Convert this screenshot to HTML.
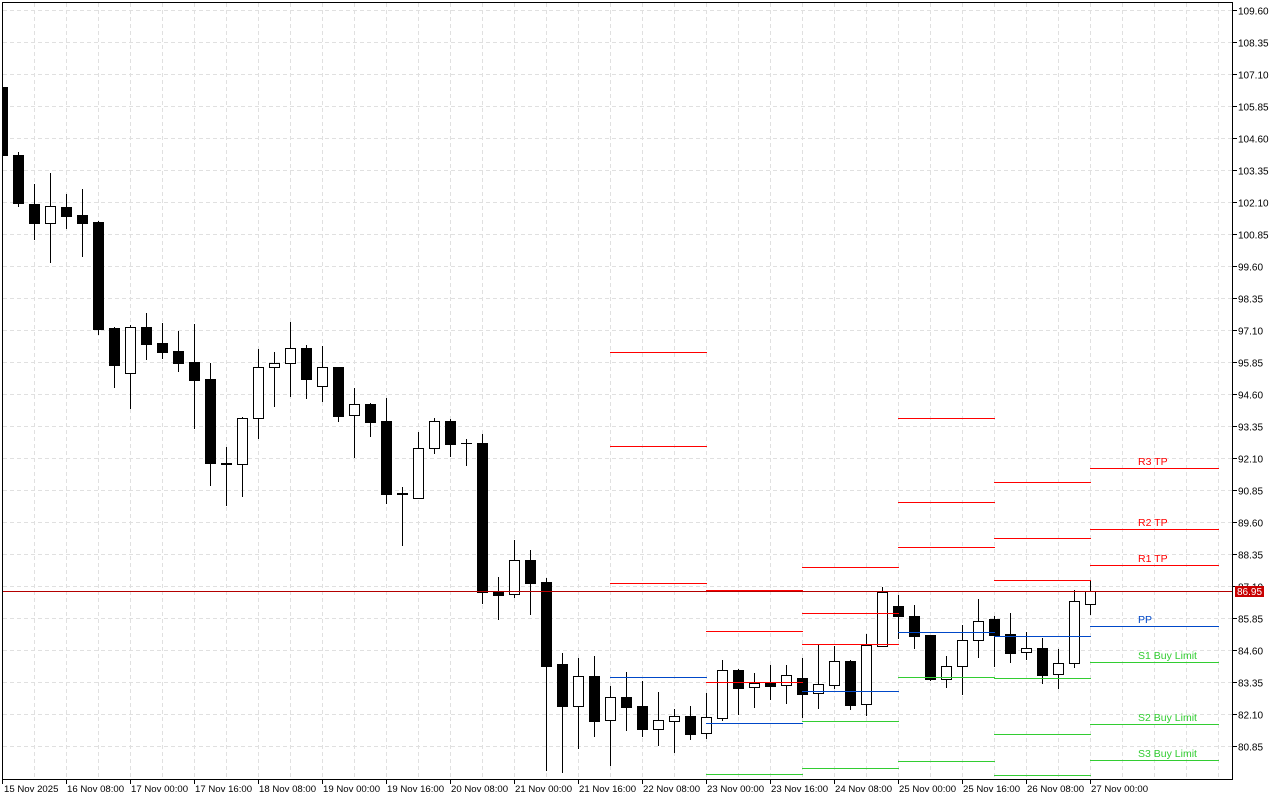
<!DOCTYPE html>
<html><head><meta charset="utf-8"><style>
html,body{margin:0;padding:0;background:#fff;}
svg{display:block;}
text{font-family:"Liberation Sans",Arial,sans-serif;}
</style></head><body>
<svg width="1280" height="800" viewBox="0 0 1280 800" xmlns="http://www.w3.org/2000/svg">
<defs><clipPath id="pa"><rect x="3" y="3" width="1229" height="776"/></clipPath></defs>
<rect width="1280" height="800" fill="#fff"/>
<g stroke="#e0e0e0" stroke-width="1" stroke-dasharray="4,3" fill="none">
<path d="M34.5 3V779M66.5 3V779M98.5 3V779M130.5 3V779M162.5 3V779M194.5 3V779M226.5 3V779M258.5 3V779M290.5 3V779M322.5 3V779M354.5 3V779M386.5 3V779M418.5 3V779M450.5 3V779M482.5 3V779M514.5 3V779M546.5 3V779M578.5 3V779M610.5 3V779M642.5 3V779M674.5 3V779M706.5 3V779M738.5 3V779M770.5 3V779M802.5 3V779M834.5 3V779M866.5 3V779M898.5 3V779M930.5 3V779M962.5 3V779M994.5 3V779M1026.5 3V779M1058.5 3V779M1090.5 3V779M1122.5 3V779M1154.5 3V779M1186.5 3V779M1218.5 3V779"/>
<path d="M3 10.5H1232M3 42.5H1232M3 74.5H1232M3 106.5H1232M3 138.5H1232M3 170.5H1232M3 202.5H1232M3 234.5H1232M3 266.5H1232M3 298.5H1232M3 330.5H1232M3 362.5H1232M3 394.5H1232M3 426.5H1232M3 458.5H1232M3 490.5H1232M3 522.5H1232M3 554.5H1232M3 586.5H1232M3 618.5H1232M3 650.5H1232M3 682.5H1232M3 714.5H1232M3 746.5H1232"/>
</g>
<g clip-path="url(#pa)">
<path stroke="#000" stroke-width="1" fill="none" d="M2.5 87V156M18.5 152V207M34.5 184V240M50.5 173V263M66.5 194V229M82.5 189V257M98.5 221V335M114.5 327V388M130.5 325V409M146.5 313V360M162.5 323V359M178.5 331V372M194.5 324V429M210.5 363V486M226.5 447V506M242.5 417V497M258.5 349V439M274.5 352V407M290.5 322V397M306.5 345V399M322.5 346V402M338.5 367V422M354.5 388V458M370.5 403V437M386.5 398V504M402.5 487V546M418.5 432V499M434.5 418V454M450.5 419V457M466.5 439V466M482.5 434V604M498.5 577V620M514.5 540V598M530.5 550V615M546.5 578V771M562.5 653V773M578.5 658V749M594.5 656V737M610.5 686V766M626.5 672V731M642.5 681V737M658.5 692V746M674.5 709V753M690.5 706V740M706.5 693V739M722.5 660V721M738.5 669V715M754.5 673V708M770.5 665V700M786.5 665V704M802.5 658V718M818.5 645V709M834.5 646V689M850.5 660V710M866.5 634V716M882.5 587V647M898.5 595V639M914.5 605V649M930.5 635V681M946.5 656V688M962.5 625V695M978.5 599V658M994.5 616V667M1010.5 613V663M1026.5 632V660M1042.5 638V684M1058.5 649V689M1074.5 590V668M1090.5 580V615"/>
<g stroke="#000" stroke-width="1">
<rect x="-2.5" y="87.5" width="10" height="68" fill="#000"/>
<rect x="13.5" y="155.5" width="10" height="48" fill="#000"/>
<rect x="29.5" y="204.5" width="10" height="19" fill="#000"/>
<rect x="45.5" y="206.5" width="10" height="17" fill="#fff"/>
<rect x="61.5" y="207.5" width="10" height="9" fill="#000"/>
<rect x="77.5" y="215.5" width="10" height="8" fill="#000"/>
<rect x="93.5" y="222.5" width="10" height="107" fill="#000"/>
<rect x="109.5" y="328.5" width="10" height="37" fill="#000"/>
<rect x="125.5" y="327.5" width="10" height="46" fill="#fff"/>
<rect x="141.5" y="327.5" width="10" height="17" fill="#000"/>
<rect x="157.5" y="343.5" width="10" height="9" fill="#000"/>
<rect x="173.5" y="351.5" width="10" height="12" fill="#000"/>
<rect x="189.5" y="362.5" width="10" height="18" fill="#000"/>
<rect x="205.5" y="379.5" width="10" height="84" fill="#000"/>
<rect x="221.5" y="463.5" width="10" height="1" fill="#000"/>
<rect x="237.5" y="418.5" width="10" height="46" fill="#fff"/>
<rect x="253.5" y="367.5" width="10" height="51" fill="#fff"/>
<rect x="269.5" y="363.5" width="10" height="4" fill="#fff"/>
<rect x="285.5" y="348.5" width="10" height="15" fill="#fff"/>
<rect x="301.5" y="348.5" width="10" height="31" fill="#000"/>
<rect x="317.5" y="367.5" width="10" height="19" fill="#fff"/>
<rect x="333.5" y="367.5" width="10" height="49" fill="#000"/>
<rect x="349.5" y="404.5" width="10" height="11" fill="#fff"/>
<rect x="365.5" y="404.5" width="10" height="18" fill="#000"/>
<rect x="381.5" y="421.5" width="10" height="73" fill="#000"/>
<rect x="397.5" y="493.5" width="10" height="1" fill="#000"/>
<rect x="413.5" y="448.5" width="10" height="50" fill="#fff"/>
<rect x="429.5" y="421.5" width="10" height="27" fill="#fff"/>
<rect x="445.5" y="421.5" width="10" height="23" fill="#000"/>
<path d="M461 443.5H472"/>
<rect x="477.5" y="443.5" width="10" height="149" fill="#000"/>
<rect x="493.5" y="591.5" width="10" height="4" fill="#000"/>
<rect x="509.5" y="560.5" width="10" height="34" fill="#fff"/>
<rect x="525.5" y="560.5" width="10" height="23" fill="#000"/>
<rect x="541.5" y="582.5" width="10" height="84" fill="#000"/>
<rect x="557.5" y="664.5" width="10" height="42" fill="#000"/>
<rect x="573.5" y="676.5" width="10" height="30" fill="#fff"/>
<rect x="589.5" y="676.5" width="10" height="45" fill="#000"/>
<rect x="605.5" y="697.5" width="10" height="23" fill="#fff"/>
<rect x="621.5" y="697.5" width="10" height="10" fill="#000"/>
<rect x="637.5" y="706.5" width="10" height="23" fill="#000"/>
<rect x="653.5" y="720.5" width="10" height="9" fill="#fff"/>
<rect x="669.5" y="716.5" width="10" height="5" fill="#fff"/>
<rect x="685.5" y="716.5" width="10" height="18" fill="#000"/>
<rect x="701.5" y="717.5" width="10" height="16" fill="#fff"/>
<rect x="717.5" y="670.5" width="10" height="48" fill="#fff"/>
<rect x="733.5" y="670.5" width="10" height="18" fill="#000"/>
<rect x="749.5" y="683.5" width="10" height="4" fill="#fff"/>
<rect x="765.5" y="683.5" width="10" height="3" fill="#000"/>
<rect x="781.5" y="675.5" width="10" height="10" fill="#fff"/>
<rect x="797.5" y="678.5" width="10" height="16" fill="#000"/>
<rect x="813.5" y="684.5" width="10" height="9" fill="#fff"/>
<rect x="829.5" y="661.5" width="10" height="24" fill="#fff"/>
<rect x="845.5" y="661.5" width="10" height="44" fill="#000"/>
<rect x="861.5" y="645.5" width="10" height="59" fill="#fff"/>
<rect x="877.5" y="592.5" width="10" height="54" fill="#fff"/>
<rect x="893.5" y="606.5" width="10" height="10" fill="#000"/>
<rect x="909.5" y="616.5" width="10" height="20" fill="#000"/>
<rect x="925.5" y="635.5" width="10" height="44" fill="#000"/>
<rect x="941.5" y="666.5" width="10" height="13" fill="#fff"/>
<rect x="957.5" y="640.5" width="10" height="26" fill="#fff"/>
<rect x="973.5" y="621.5" width="10" height="19" fill="#fff"/>
<rect x="989.5" y="619.5" width="10" height="16" fill="#000"/>
<rect x="1005.5" y="634.5" width="10" height="19" fill="#000"/>
<rect x="1021.5" y="648.5" width="10" height="4" fill="#fff"/>
<rect x="1037.5" y="648.5" width="10" height="27" fill="#000"/>
<rect x="1053.5" y="663.5" width="10" height="11" fill="#fff"/>
<rect x="1069.5" y="601.5" width="10" height="62" fill="#fff"/>
<rect x="1085.5" y="591.5" width="10" height="13" fill="#fff"/>
</g>
<path stroke="#ff0000" stroke-width="1" fill="none" d="M610 352.5H707M610 446.5H707M610 583.5H707M706 590.5H803M706 631.5H803M706 682.5H803M802 567.5H899M802 613.5H899M802 644.5H899M898 418.5H995M898 502.5H995M898 547.5H995M994 482.5H1091M994 538.5H1091M994 580.5H1091M1090 468.5H1219M1090 529.5H1219M1090 565.5H1219"/>
<path stroke="#0048c8" stroke-width="1" fill="none" d="M610 677.5H707M706 723.5H803M802 691.5H899M898 632.5H995M994 636.5H1091M1090 626.5H1219"/>
<path stroke="#32cd32" stroke-width="1" fill="none" d="M706 774.5H803M802 721.5H899M802 768.5H899M898 677.5H995M898 761.5H995M994 678.5H1091M994 734.5H1091M994 775.5H1091M1090 662.5H1219M1090 724.5H1219M1090 760.5H1219"/>
<path stroke="#b40000" stroke-width="1" d="M3 591.5H1232"/>
<g font-size="10.5">
<text x="1138" y="465" fill="#ff0000">R3 TP</text>
<text x="1138" y="526" fill="#ff0000">R2 TP</text>
<text x="1138" y="562" fill="#ff0000">R1 TP</text>
<text x="1138" y="623" fill="#0048c8">PP</text>
<text x="1138" y="659" fill="#32cd32">S1 Buy Limit</text>
<text x="1138" y="721" fill="#32cd32">S2 Buy Limit</text>
<text x="1138" y="757" fill="#32cd32">S3 Buy Limit</text>
</g>
</g>
<rect x="2.5" y="2.5" width="1230" height="777" fill="none" stroke="#000" stroke-width="1"/>
<path stroke="#000" stroke-width="1" d="M1233 10.5H1237M1233 42.5H1237M1233 74.5H1237M1233 106.5H1237M1233 138.5H1237M1233 170.5H1237M1233 202.5H1237M1233 234.5H1237M1233 266.5H1237M1233 298.5H1237M1233 330.5H1237M1233 362.5H1237M1233 394.5H1237M1233 426.5H1237M1233 458.5H1237M1233 490.5H1237M1233 522.5H1237M1233 554.5H1237M1233 586.5H1237M1233 618.5H1237M1233 650.5H1237M1233 682.5H1237M1233 714.5H1237M1233 746.5H1237"/>
<g font-size="10" fill="#000">
<text x="1238" y="14.5">109.60</text>
<text x="1238" y="46.5">108.35</text>
<text x="1238" y="78.5">107.10</text>
<text x="1238" y="110.5">105.85</text>
<text x="1238" y="142.5">104.60</text>
<text x="1238" y="174.5">103.35</text>
<text x="1238" y="206.5">102.10</text>
<text x="1238" y="238.5">100.85</text>
<text x="1238" y="270.5">99.60</text>
<text x="1238" y="302.5">98.35</text>
<text x="1238" y="334.5">97.10</text>
<text x="1238" y="366.5">95.85</text>
<text x="1238" y="398.5">94.60</text>
<text x="1238" y="430.5">93.35</text>
<text x="1238" y="462.5">92.10</text>
<text x="1238" y="494.5">90.85</text>
<text x="1238" y="526.5">89.60</text>
<text x="1238" y="558.5">88.35</text>
<text x="1238" y="590.5">87.10</text>
<text x="1238" y="622.5">85.85</text>
<text x="1238" y="654.5">84.60</text>
<text x="1238" y="686.5">83.35</text>
<text x="1238" y="718.5">82.10</text>
<text x="1238" y="750.5">80.85</text>
</g>
<rect x="1235" y="586" width="29" height="11" fill="#c80000"/>
<text x="1237" y="595" font-size="10" fill="#fff">86.95</text>
<path stroke="#000" stroke-width="1" d="M2.5 780V784M66.5 780V784M130.5 780V784M194.5 780V784M258.5 780V784M322.5 780V784M386.5 780V784M450.5 780V784M514.5 780V784M578.5 780V784M642.5 780V784M706.5 780V784M770.5 780V784M834.5 780V784M898.5 780V784M962.5 780V784M1026.5 780V784M1090.5 780V784"/>
<g font-size="9.6" fill="#000">
<text x="4" y="792">15 Nov 2025</text>
<text x="67" y="792">16 Nov 08:00</text>
<text x="131" y="792">17 Nov 00:00</text>
<text x="195" y="792">17 Nov 16:00</text>
<text x="259" y="792">18 Nov 08:00</text>
<text x="323" y="792">19 Nov 00:00</text>
<text x="387" y="792">19 Nov 16:00</text>
<text x="451" y="792">20 Nov 08:00</text>
<text x="515" y="792">21 Nov 00:00</text>
<text x="579" y="792">21 Nov 16:00</text>
<text x="643" y="792">22 Nov 08:00</text>
<text x="707" y="792">23 Nov 00:00</text>
<text x="771" y="792">23 Nov 16:00</text>
<text x="835" y="792">24 Nov 08:00</text>
<text x="899" y="792">25 Nov 00:00</text>
<text x="963" y="792">25 Nov 16:00</text>
<text x="1027" y="792">26 Nov 08:00</text>
<text x="1091" y="792">27 Nov 00:00</text>
</g>
</svg>
</body></html>
